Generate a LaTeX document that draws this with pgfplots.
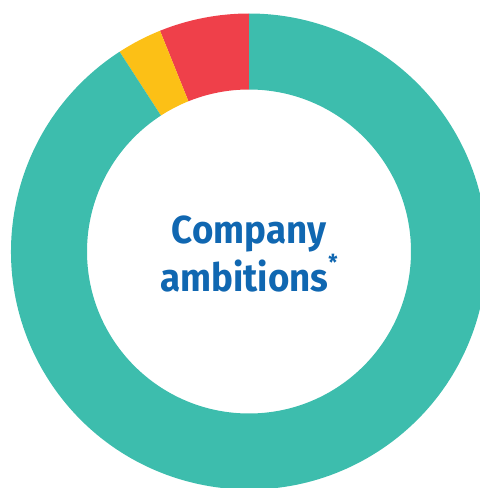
\documentclass[border=0pt]{standalone}
\usepackage{pgfplots}
\usepackage{pgfplotstable}
\pgfplotsset{compat=1.18}
\usepackage{fontspec}
\setmainfont{Fira Sans}
\definecolor{cteal}{RGB}{61,189,173}
\definecolor{cred}{RGB}{239,64,74}
\definecolor{cyellow}{RGB}{252,192,22}
\definecolor{cblue}{RGB}{16,103,177}

% share of the ring, starting at 12 o'clock, counter-clockwise
\pgfplotstableread{
label value color
Other 6.1 cred
Mixed 3.05 cyellow
Ambitions 90.85 cteal
}\donutdata

\begin{document}
\begin{tikzpicture}
\begin{axis}[hide axis, scale only axis, width=240pt, height=244pt,
  xmin=0, xmax=480, ymin=0, ymax=488, clip=true]
\addplot[draw=none] coordinates {(249,236.5)};
\pgfplotsextra{
  \coordinate (c) at (axis cs:249,236.5);
  \pgfplotstablegetrowsof{\donutdata}
  \pgfmathtruncatemacro{\nrows}{\pgfplotsretval-1}
  \xdef\angstart{90}
  \foreach \i in {0,...,\nrows} {
    \pgfplotstablegetelem{\i}{value}\of{\donutdata}
    \pgfmathsetmacro{\angend}{\angstart+3.6*\pgfplotsretval}
    \pgfplotstablegetelem{\i}{color}\of{\donutdata}
    \edef\segcol{\pgfplotsretval}
    \fill[\segcol] ([shift={(\angstart:119pt)}]c) arc[start angle=\angstart, end angle=\angend, radius=119pt]
      -- ([shift={(\angend:81pt)}]c) arc[start angle=\angend, end angle=\angstart, radius=81pt] -- cycle;
    \xdef\angstart{\angend}
  }
  \node[align=center, text=cblue, font=\fontsize{19.5}{20.5}\selectfont\bfseries, xscale=0.94] at (axis cs:249,234) {Company\\ambitions\raisebox{0.55em}{\fontsize{11}{11}\selectfont*}};
}
\end{axis}
\pgfresetboundingbox
\path[use as bounding box] (current axis.south west) rectangle (current axis.north east);
\end{tikzpicture}
\end{document}
